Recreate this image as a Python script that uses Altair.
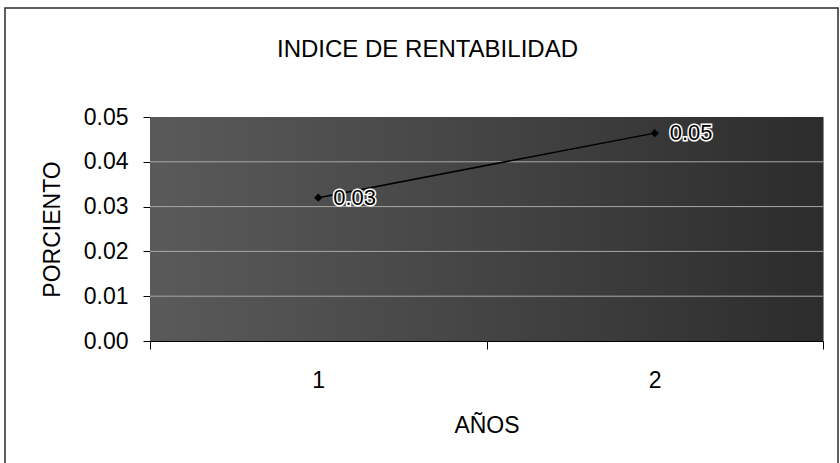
import altair as alt
import pandas as pd

# Profitability index by year
years = ["1", "2"]
rentabilidad = [0.032, 0.0464]
y_ticks = [0.0, 0.01, 0.02, 0.03, 0.04, 0.05]
grid_levels = [0.01, 0.02, 0.03, 0.04]

df = pd.DataFrame({"AÑO": years, "INDICE": rentabilidad})
grid_df = pd.DataFrame({"INDICE": grid_levels})

FONT = "Liberation Sans"
W, H = 673, 224

x_enc = alt.X(
    "AÑO:N",
    title="AÑOS",
    scale=alt.Scale(type="band", paddingInner=0, paddingOuter=0),
    axis=alt.Axis(
        labelAngle=0,
        tickBand="extent",
        tickSize=8,
        labelPadding=20,
        titlePadding=22,
        grid=False,
    ),
)
y_scale = alt.Scale(domain=[0, 0.05], nice=False, zero=True)
y_enc = alt.Y(
    "INDICE:Q",
    title="PORCIENTO",
    scale=y_scale,
    axis=alt.Axis(
        values=y_ticks,
        format=".2f",
        tickSize=7,
        labelPadding=15,
        titlePadding=19,
        grid=False,
    ),
)

# Shaded plot-area background
plot_bg = alt.Chart(alt.Data(values=[{"k": 0}])).mark_rect(
    color=alt.LinearGradient(
        gradient="linear",
        x1=0, y1=0, x2=1, y2=0,
        stops=[
            alt.GradientStop(offset=0, color="#5a5a5a"),
            alt.GradientStop(offset=0.5, color="#444444"),
            alt.GradientStop(offset=1, color="#2c2c2c"),
        ],
    )
).encode(x=alt.value(0), x2=alt.value(W), y=alt.value(0), y2=alt.value(H))

# Horizontal gridlines at the tick levels
grid = alt.Chart(grid_df).mark_rule(color="#a8a8a8", strokeWidth=1).encode(y=y_enc)

base = alt.Chart(df).encode(x=x_enc, y=y_enc)

line = base.mark_line(color="black", strokeWidth=1.5)
points = base.mark_point(shape="diamond", filled=True, size=70, color="black", opacity=1)
label_halo = base.mark_text(
    align="left", dx=15, fontSize=22, font=FONT, stroke="white", strokeWidth=3, color="white"
).encode(text=alt.Text("INDICE:Q", format=".2f"))
label_text = base.mark_text(
    align="left", dx=15, fontSize=22, font=FONT, color="black"
).encode(text=alt.Text("INDICE:Q", format=".2f"))

# Outer chart frame
frame = alt.Chart(alt.Data(values=[{"k": 0}])).mark_rect(
    fillOpacity=0, stroke="#2a2a2a", strokeWidth=1.5, clip=False
).encode(
    x=alt.value(-145), x2=alt.value(688), y=alt.value(-109), y2=alt.value(360)
)

chart = (
    alt.layer(frame, plot_bg, grid, line, points, label_halo, label_text)
    .properties(
        width=W,
        height=H,
        title=alt.TitleParams(
            "INDICE DE RENTABILIDAD",
            font=FONT,
            fontSize=24,
            fontWeight="normal",
            color="black",
            anchor="middle",
            dx=-59,
            offset=0,
            dy=55,
        ),
        autosize=alt.AutoSizeParams(type="none"),
        padding={"left": 150, "top": 117, "right": 17, "bottom": 122},
    )
    .configure(background="white")
    .configure_view(stroke="#8a8a8a", strokeWidth=1)
    .configure_axis(
        labelFont=FONT,
        titleFont=FONT,
        labelFontSize=23,
        titleFontSize=23,
        titleFontWeight="normal",
        labelColor="black",
        titleColor="black",
        domainColor="black",
        tickColor="black",
        domainWidth=1,
        tickWidth=1,
        zindex=1,
    )
)

chart.save("out.html", embed_options={"renderer": "svg", "actions": False})
